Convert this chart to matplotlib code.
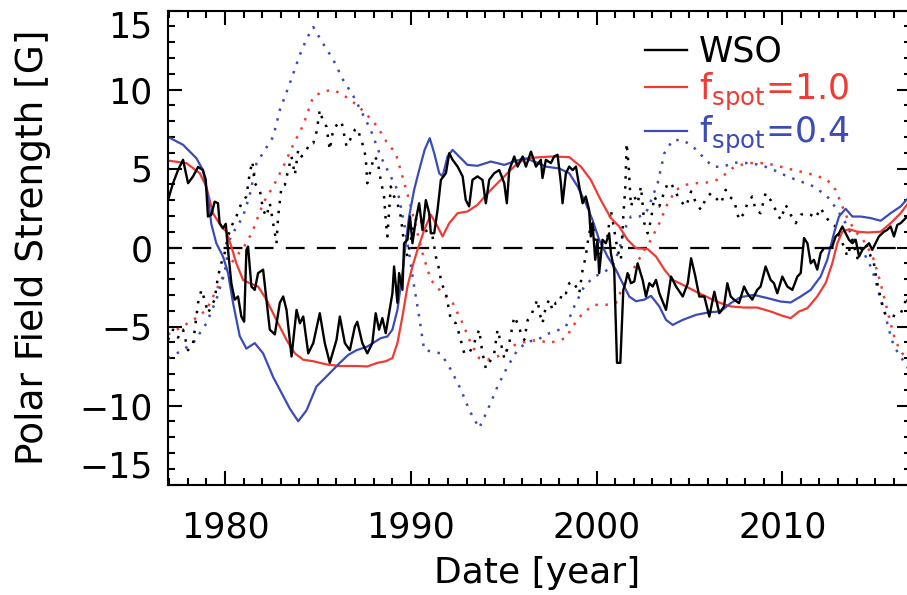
import matplotlib
matplotlib.use('Agg')
import matplotlib.pyplot as plt
from matplotlib.ticker import MultipleLocator

plt.rcParams['font.family'] = ['DejaVu Sans']
plt.rcParams['mathtext.default'] = 'regular'

RED = '#ef3b33'
BLUE = '#3b4bb8'

# WSO observed polar field, north (solid) and south (dotted)
wso_n_year = [1976.93, 1977.20, 1977.47, 1977.74, 1978.01, 1978.28, 1978.55, 1978.81, 1978.96, 1979.08,
              1979.26, 1979.44, 1979.62, 1979.71, 1979.89, 1980.04, 1980.16, 1980.34, 1980.52, 1980.70,
              1980.88, 1981.03, 1981.15, 1981.24, 1981.42, 1981.60, 1981.78, 1982.05, 1982.23, 1982.41,
              1982.68, 1982.95, 1983.13, 1983.31, 1983.58, 1983.85, 1984.03, 1984.21, 1984.48, 1984.75,
              1985.10, 1985.37, 1985.64, 1986.00, 1986.18, 1986.45, 1986.72, 1986.99, 1987.12, 1987.39,
              1987.66, 1987.93, 1988.11, 1988.29, 1988.47, 1988.65, 1988.83, 1989.01, 1989.10, 1989.28,
              1989.37, 1989.55, 1989.64, 1989.82, 1989.96, 1990.09, 1990.27, 1990.45, 1990.63, 1990.81,
              1990.99, 1991.08, 1991.26, 1991.44, 1991.62, 1991.89, 1992.07, 1992.25, 1992.52, 1992.79,
              1992.96, 1993.14, 1993.32, 1993.59, 1993.86, 1994.04, 1994.22, 1994.49, 1994.76, 1995.03,
              1995.17, 1995.30, 1995.57, 1995.75, 1996.02, 1996.20, 1996.47, 1996.74, 1997.00, 1997.09,
              1997.27, 1997.54, 1997.72, 1997.90, 1998.08, 1998.17, 1998.35, 1998.53, 1998.71, 1998.89,
              1999.07, 1999.25, 1999.42, 1999.60, 1999.69, 1999.78, 1999.93, 2000.05, 2000.14, 2000.32,
              2000.50, 2000.68, 2000.77, 2000.95, 2001.10, 2001.28, 2001.44, 2001.55, 2001.67, 2001.85,
              2002.03, 2002.21, 2002.48, 2002.66, 2002.84, 2003.02, 2003.20, 2003.38, 2003.74, 2004.01,
              2004.28, 2004.64, 2004.91, 2005.09, 2005.32, 2005.53, 2005.80, 2006.07, 2006.34, 2006.61,
              2006.86, 2007.04, 2007.22, 2007.40, 2007.67, 2007.94, 2008.12, 2008.38, 2008.65, 2008.83,
              2009.10, 2009.37, 2009.55, 2009.73, 2010.00, 2010.27, 2010.54, 2010.81, 2010.99, 2011.17,
              2011.35, 2011.53, 2011.70, 2011.88, 2012.06, 2012.24, 2012.51, 2012.69, 2012.87, 2013.05,
              2013.23, 2013.41, 2013.59, 2013.77, 2013.95, 2014.13, 2014.31, 2014.49, 2014.67, 2014.84,
              2015.02, 2015.20, 2015.47, 2015.65, 2015.83, 2016.01, 2016.19, 2016.37, 2016.64, 2016.90]
wso_n = [3.0, 4.07, 4.9, 5.55, 4.07, 4.5, 5.1, 4.9, 4.3, 1.96,
         2.07, 2.9, 2.8, 1.54, 1.22, 1.5, -0.15, -2.26, -3.3, -3.1,
         -4.37, -4.7, -0.15, 0.06, -2.47, -2.68, -1.62, -1.4, -3.3, -5.2,
         -5.5, -3.5, -3.1, -3.95, -6.9, -3.95, -4.8, -4.37, -6.7, -6.05,
         -4.16, -6.05, -7.3, -5.85, -4.37, -6.05, -6.5, -5.0, -4.7, -6.05,
         -6.7, -6.05, -4.16, -5.2, -4.47, -5.42, -4.16, -2.9, -1.2, -3.5,
         -1.62, -2.68, 0.27, 0.49, 1.96, 0.27, 1.75, 2.8, 1.1, 3.0,
         2.17, 0.9, 0.9, 2.38, 4.28, 4.7, 5.97, 5.55, 5.12, 4.5,
         3.0, 2.6, 4.28, 4.5, 4.28, 2.8, 4.28, 4.7, 4.9, 4.07,
         2.8, 4.9, 5.76, 5.12, 5.76, 5.12, 6.07, 5.12, 5.55, 4.4,
         5.55, 5.34, 5.76, 5.87, 4.07, 2.8, 4.7, 5.12, 4.9, 5.12,
         3.86, 2.8, 3.23, 2.38, 0.7, 1.54, -0.78, 0.49, -1.62, 0.49,
         0.27, 0.9, -0.36, -1.4, -7.3, -7.3, -2.68, -2.26, -1.62, -2.26,
         -2.15, -1.0, -2.05, -3.1, -2.26, -2.47, -2.05, -2.9, -3.95, -1.84,
         -2.47, -3.1, -2.26, -0.68, -1.84, -3.1, -3.1, -4.37, -2.8, -4.16,
         -3.73, -2.26, -3.1, -3.3, -3.52, -2.47, -2.9, -3.3, -2.68, -2.47,
         -1.2, -2.05, -2.26, -2.9, -1.84, -2.47, -2.68, -1.84, -1.62, 0.6,
         0.27, -1.0, -0.78, -1.4, -0.36, -0.04, -0.04, 0.06, 0.7, 0.9,
         1.33, 0.9, 0.49, 0.27, 0.49, -0.57, -0.15, 0.06, 0.27, -0.15,
         0.27, 0.7, 1.0, 1.12, 1.33, 0.7, 1.43, 1.54, 1.86, 2.1]

wso_s_year = [1976.93, 1977.20, 1977.47, 1977.74, 1978.01, 1978.28, 1978.55, 1978.73, 1978.90, 1979.08,
              1979.26, 1979.44, 1979.62, 1979.80, 1979.98, 1980.16, 1980.34, 1980.61, 1980.88, 1981.15,
              1981.33, 1981.47, 1981.60, 1981.87, 1982.05, 1982.23, 1982.41, 1982.59, 1982.77, 1982.86,
              1983.04, 1983.22, 1983.40, 1983.58, 1983.76, 1983.94, 1984.12, 1984.39, 1984.57, 1984.75,
              1984.93, 1985.10, 1985.28, 1985.46, 1985.64, 1985.82, 1986.09, 1986.27, 1986.54, 1986.81,
              1986.99, 1987.12, 1987.39, 1987.57, 1987.66, 1987.84, 1988.02, 1988.20, 1988.38, 1988.56,
              1988.65, 1988.74, 1988.92, 1989.10, 1989.28, 1989.46, 1989.64, 1989.82, 1990.00, 1990.18,
              1990.36, 1990.63, 1990.90, 1991.17, 1991.35, 1991.53, 1991.65, 1991.89, 1992.16, 1992.43,
              1992.61, 1992.88, 1993.14, 1993.41, 1993.68, 1993.86, 1994.04, 1994.22, 1994.49, 1994.67,
              1994.85, 1995.03, 1995.30, 1995.57, 1995.75, 1995.93, 1996.11, 1996.29, 1996.47, 1996.65,
              1996.83, 1996.91, 1997.09, 1997.27, 1997.45, 1997.63, 1997.81, 1997.99, 1998.17, 1998.35,
              1998.53, 1998.71, 1998.89, 1999.07, 1999.25, 1999.42, 1999.57, 1999.69, 1999.87, 2000.05,
              2000.32, 2000.59, 2000.77, 2000.95, 2001.13, 2001.31, 2001.44, 2001.55, 2001.62, 2001.73,
              2001.85, 2002.03, 2002.21, 2002.39, 2002.57, 2002.75, 2002.93, 2003.11, 2003.38, 2003.56,
              2003.83, 2004.01, 2004.28, 2004.55, 2004.82, 2005.09, 2005.36, 2005.62, 2005.89, 2006.16,
              2006.43, 2006.70, 2006.95, 2007.13, 2007.40, 2007.67, 2007.94, 2008.12, 2008.38, 2008.56,
              2008.83, 2009.10, 2009.37, 2009.64, 2009.91, 2010.18, 2010.45, 2010.72, 2010.99, 2011.26,
              2011.53, 2011.79, 2012.06, 2012.33, 2012.60, 2012.87, 2013.14, 2013.32, 2013.50, 2013.77,
              2014.04, 2014.22, 2014.49, 2014.76, 2014.93, 2015.11, 2015.38, 2015.56, 2015.83, 2016.10,
              2016.37, 2016.55, 2016.69, 2016.90]
wso_s = [-5.85, -5.2, -5.7, -5.2, -6.5, -6.05, -3.5, -2.68, -3.3, -4.16,
         -3.73, -3.3, -1.84, -1.0, -0.36, 0.7, 1.33, 1.96, 2.8, 3.23,
         4.7, 5.44, 4.07, 3.65, 2.38, 1.96, 2.8, 1.54, 0.27, 1.96,
         3.86, 3.97, 4.9, 5.76, 4.6, 6.18, 5.76, 6.18, 6.6, 6.6,
         7.34, 8.7, 7.97, 7.66, 6.18, 7.45, 7.87, 7.97, 6.4, 7.0,
         7.45, 7.55, 6.6, 5.76, 4.07, 4.9, 5.76, 5.55, 4.28, 3.23,
         1.75, 0.7, 3.86, 3.23, 2.8, 1.96, 0.27, -0.57, 0.49, 1.54,
         1.96, 1.54, 0.9, 0.7, -0.57, -1.4, -2.26, -2.9, -4.6, -4.8,
         -5.5, -6.7, -6.7, -6.05, -5.2, -6.7, -7.64, -7.3, -6.7, -5.2,
         -6.05, -7.0, -6.05, -4.37, -4.8, -5.42, -5.85, -4.6, -4.37, -3.73,
         -3.3, -4.05, -4.8, -3.73, -3.3, -3.95, -3.5, -3.5, -2.8, -2.9,
         -2.26, -2.15, -2.47, -2.9, -1.4, -0.57, 0.7, 1.33, 1.1, -0.57,
         0.27, 0.7, 2.38, 1.1, -0.15, -0.78, 1.96, 3.86, 6.6, 5.12,
         2.6, 3.23, 2.8, 3.86, 1.54, 0.9, 1.75, 3.23, 2.6, 3.23,
         4.07, 4.07, 3.44, 2.9, 2.6, 3.55, 2.8, 2.38, 3.12, 3.44,
         3.12, 2.8, 3.65, 3.23, 3.0, 1.75, 2.17, 2.8, 3.23, 2.38,
         2.17, 3.44, 3.0, 2.38, 1.75, 2.7, 2.07, 1.54, 2.07, 2.17,
         2.07, 1.86, 2.5, 1.96, 1.54, 1.33, 0.49, 0.06, -0.57, 0.49,
         -0.68, -0.15, 0.27, -0.57, -1.0, -2.26, -3.63, -4.26, -4.26, -4.37,
         -4.16, -3.73, -3.1, -4.4]

# model, f_spot = 1.0, north (solid) and south (dotted)
f10_n_year = [1976.93, 1977.92, 1978.64, 1978.99, 1979.35, 1979.80, 1980.07, 1980.34, 1980.61, 1980.97,
              1981.33, 1981.78, 1982.23, 1982.77, 1983.31, 1983.76, 1984.21, 1984.75, 1985.46, 1986.18,
              1987.08, 1987.66, 1988.20, 1988.65, 1989.01, 1989.28, 1989.55, 1989.82, 1990.09, 1990.36,
              1990.72, 1991.08, 1991.44, 1991.71, 1992.07, 1992.52, 1993.05, 1993.59, 1994.31, 1995.03,
              1995.75, 1996.29, 1997.00, 1997.63, 1998.53, 1999.16, 1999.69, 2000.23, 2000.77, 2001.22,
              2001.67, 2002.12, 2002.75, 2003.20, 2003.65, 2004.10, 2004.64, 2005.36, 2006.07, 2006.68,
              2007.22, 2007.94, 2008.65, 2009.37, 2010.00, 2010.45, 2010.90, 2011.35, 2011.88, 2012.33,
              2012.69, 2012.96, 2013.23, 2013.59, 2014.04, 2014.58, 2015.29, 2015.83, 2016.37, 2016.90]
f10_n = [5.5, 5.34, 4.7, 3.86, 2.17, 1.33, 1.0, 0.06, -1.0, -2.05,
         -2.26, -2.47, -3.3, -4.6, -5.85, -6.7, -7.1, -7.2, -7.4, -7.5,
         -7.5, -7.53, -7.3, -7.2, -7.0, -6.05, -4.37, -2.47, -1.2, -0.15,
         1.1, 2.07, 1.33, 0.7, 1.54, 2.17, 2.28, 2.7, 3.65, 4.5,
         5.34, 5.65, 5.72, 5.76, 5.72, 5.12, 4.28, 3.0, 1.86, 1.33,
         0.49, -0.04, -0.1, -0.57, -1.4, -2.05, -2.36, -2.8, -3.2, -3.52,
         -3.73, -3.8, -3.8, -4.05, -4.32, -4.47, -4.05, -3.84, -3.1, -2.26,
         -1.0, 0.27, 1.0, 1.16, 1.0, 0.95, 1.0, 1.54, 2.17, 3.0]

f10_s_year = [1976.93, 1977.56, 1978.28, 1979.00, 1979.53, 1980.07, 1980.61, 1981.15, 1981.51, 1982.05,
              1982.59, 1983.13, 1983.67, 1984.21, 1984.75, 1985.28, 1985.82, 1986.36, 1986.90, 1987.48,
              1988.20, 1988.74, 1989.19, 1989.55, 1989.91, 1990.27, 1990.63, 1991.08, 1991.71, 1992.25,
              1992.79, 1993.23, 1993.68, 1994.13, 1994.67, 1995.21, 1995.75, 1996.29, 1996.83, 1997.45,
              1998.35, 1998.71, 1999.25, 1999.87, 2000.50, 2001.04, 2001.58, 2002.12, 2002.57, 2002.93,
              2003.38, 2003.83, 2004.28, 2004.82, 2005.36, 2005.89, 2006.52, 2007.00, 2007.40, 2008.12,
              2008.83, 2009.55, 2010.27, 2010.99, 2011.70, 2012.42, 2012.87, 2013.23, 2013.50, 2013.95,
              2014.49, 2014.93, 2015.29, 2015.56, 2015.83, 2016.10, 2016.46, 2016.90]
f10_s = [-5.5, -5.1, -4.6, -3.95, -2.7, -1.4, -0.57, 0.27, 1.1, 2.8,
         3.86, 5.1, 6.5, 7.76, 9.55, 9.87, 9.98, 9.66, 9.2, 8.6,
         7.66, 6.6, 5.97, 4.5, 3.0, 1.33, -0.36, -2.05, -2.9, -3.5,
         -4.8, -6.05, -7.0, -7.1, -6.9, -6.48, -6.05, -5.95, -5.85, -6.05,
         -5.74, -5.0, -4.16, -3.63, -3.63, -3.5, -2.05, -1.1, -0.15, 0.49,
         1.54, 2.8, 3.65, 3.97, 4.07, 4.1, 4.3, 4.7, 5.1, 5.34,
         5.35, 5.23, 5.0, 4.8, 4.6, 4.28, 3.65, 2.6, 1.86, 1.0,
         0.27, -0.78, -2.26, -3.52, -4.8, -5.95, -6.7, -7.2]

# model, f_spot = 0.4, north (solid) and south (dotted)
f04_n_year = [1976.93, 1977.74, 1978.46, 1978.81, 1979.08, 1979.26, 1979.53, 1979.89, 1980.16, 1980.43,
              1980.79, 1981.15, 1981.60, 1982.05, 1982.59, 1983.04, 1983.49, 1983.94, 1984.39, 1984.92,
              1985.64, 1986.18, 1986.63, 1987.08, 1987.66, 1988.38, 1988.74, 1989.01, 1989.28, 1989.55,
              1989.73, 1989.91, 1990.18, 1990.45, 1990.75, 1991.02, 1991.26, 1991.53, 1991.71, 1991.98,
              1992.25, 1992.60, 1993.05, 1993.59, 1994.31, 1995.03, 1995.57, 1996.11, 1996.65, 1997.27,
              1997.99, 1998.53, 1998.98, 1999.42, 1999.78, 2000.14, 2000.59, 2001.04, 2001.40, 2001.76,
              2002.12, 2002.57, 2002.93, 2003.38, 2003.74, 2004.10, 2004.64, 2005.36, 2006.07, 2006.68,
              2007.22, 2007.76, 2008.47, 2009.19, 2009.91, 2010.45, 2010.99, 2011.53, 2012.06, 2012.42,
              2012.78, 2013.05, 2013.41, 2013.77, 2014.22, 2014.76, 2015.29, 2015.83, 2016.37, 2016.90]
f04_n = [7.0, 6.5, 5.65, 4.9, 3.2, 1.5, 0.27, -0.57, -1.6, -3.5,
         -5.6, -6.4, -6.05, -6.7, -8.2, -9.2, -10.2, -11.0, -10.3, -8.8,
         -7.95, -7.3, -6.8, -6.5, -6.27, -5.74, -5.63, -5.2, -3.95, -1.62,
         0.27, 1.96, 3.65, 4.9, 6.2, 6.92, 5.97, 4.7, 4.5, 5.76,
         6.18, 5.76, 5.23, 5.17, 5.44, 5.23, 5.44, 5.65, 5.44, 5.12,
         5.0, 4.7, 3.86, 2.8, 1.75, 0.49, -0.57, -1.4, -2.26, -3.1,
         -3.4, -3.3, -3.06, -3.73, -4.58, -4.9, -4.58, -4.26, -4.1, -4.05,
         -3.52, -3.14, -3.0, -3.2, -3.42, -3.48, -3.1, -2.68, -1.84, -0.78,
         0.9, 1.96, 2.45, 1.96, 1.96, 1.86, 1.69, 2.17, 2.6, 3.3]

f04_s_year = [1976.93, 1977.56, 1978.28, 1979.00, 1979.53, 1979.98, 1980.25, 1980.52, 1980.97, 1981.33,
              1981.69, 1982.05, 1982.59, 1982.95, 1983.49, 1984.03, 1984.39, 1984.75, 1985.28, 1985.82,
              1986.36, 1986.90, 1987.30, 1987.84, 1988.38, 1988.83, 1989.28, 1989.64, 1989.91, 1990.18,
              1990.45, 1990.72, 1991.17, 1991.62, 1992.16, 1992.70, 1993.15, 1993.68, 1994.13, 1994.67,
              1995.21, 1995.75, 1996.29, 1996.83, 1997.27, 1997.81, 1998.35, 1998.80, 1999.33, 1999.87,
              2000.32, 2000.86, 2001.22, 2001.49, 2001.85, 2002.30, 2002.66, 2003.02, 2003.29, 2003.65,
              2004.10, 2004.64, 2005.18, 2005.71, 2006.25, 2006.79, 2007.40, 2008.12, 2008.83, 2009.55,
              2010.27, 2010.99, 2011.70, 2012.42, 2012.96, 2013.41, 2013.86, 2014.40, 2014.84, 2015.20,
              2015.47, 2015.74, 2016.01, 2016.37, 2016.90]
f04_s = [-7.0, -6.6, -6.05, -4.8, -3.3, -1.6, 0.5, 1.1, 1.96, 3.33,
         5.3, 6.0, 7.0, 8.7, 10.4, 12.2, 13.2, 13.95, 12.9, 11.9,
         10.6, 9.6, 8.7, 7.45, 5.76, 4.7, 3.65, 1.54, -0.36, -2.47,
         -4.37, -6.48, -6.6, -6.7, -7.74, -9.0, -10.3, -11.43, -10.3, -8.8,
         -7.53, -6.48, -5.95, -5.85, -5.5, -5.3, -5.0, -3.73, -2.47, -1.84,
         -1.62, -1.2, -0.15, 1.1, 1.96, 1.96, 2.17, 3.23, 4.07, 5.97,
         6.8, 6.8, 6.4, 5.76, 5.12, 5.1, 5.38, 5.34, 5.23, 4.9,
         4.5, 4.18, 3.86, 3.23, 2.38, 1.54, 0.49, -0.36, -1.4, -2.9,
         -3.95, -5.2, -6.27, -6.9, -7.9]

y_ticks = [-15, -10, -5, 0, 5, 10, 15]
x_ticks = [1980, 1990, 2000, 2010]

W, H = 907, 595
FS = 25
fig = plt.figure(figsize=(W / 100, H / 100), dpi=100)
# axes box in pixels: left 168, right ~910 (cut by the image edge), top 10.5, bottom 484.5
ax = fig.add_axes([168 / W, (H - 484.5) / H, 742.5 / W, 474 / H])

dots = (0, (1, 3))
ax.plot(f10_s_year, f10_s, color=RED, lw=1.8, linestyle=dots)
ax.plot(f04_s_year, f04_s, color=BLUE, lw=1.8, linestyle=dots)
ax.plot(wso_s_year, wso_s, color='black', lw=1.8, linestyle=dots)
ax.axhline(0, color='black', lw=1.6, linestyle=(3, (8.5, 5.5)))
l10, = ax.plot(f10_n_year, f10_n, color=RED, lw=1.6)
l04, = ax.plot(f04_n_year, f04_n, color=BLUE, lw=1.6)
lwso, = ax.plot(wso_n_year, wso_n, color='black', lw=1.7)

ax.set_xlim(1976.93, 2016.9)
ax.set_ylim(-15, 15)
ax.set_xticks(x_ticks)
ax.set_yticks(y_ticks)
ax.xaxis.set_minor_locator(MultipleLocator(1))
ax.yaxis.set_minor_locator(MultipleLocator(1))
ax.tick_params(which='both', direction='in', top=True, right=True, width=1.5, labelsize=FS)
ax.tick_params(which='major', length=10)
ax.tick_params(which='minor', length=5)
ax.tick_params(axis='x', pad=19)
ax.tick_params(axis='y', pad=11)
for s in ax.spines.values():
    s.set_linewidth(1.5)

# end labels sit inside the axis range, as in the original
yt = ax.yaxis.get_major_ticks()
yt[0].label1.set_va('bottom')
yt[-1].label1.set_va('top')

ax.set_xlabel('Date [year]', fontsize=26)
ax.set_ylabel('Polar Field Strength [G]', fontsize=27)
ax.xaxis.set_label_coords(0.497, -0.15)
ax.yaxis.set_label_coords(-0.157, 0.5)

ax.legend([lwso, l10, l04], ['WSO', r'f$_{spot}$=1.0', r'f$_{spot}$=0.4'],
          loc='upper left', bbox_to_anchor=(0.642, 0.949), frameon=False, fontsize=FS,
          handlelength=1.22, handletextpad=0.33, labelspacing=0.05, borderpad=0, borderaxespad=0,
          labelcolor='linecolor')

fig.savefig('out.png', dpi=100)
